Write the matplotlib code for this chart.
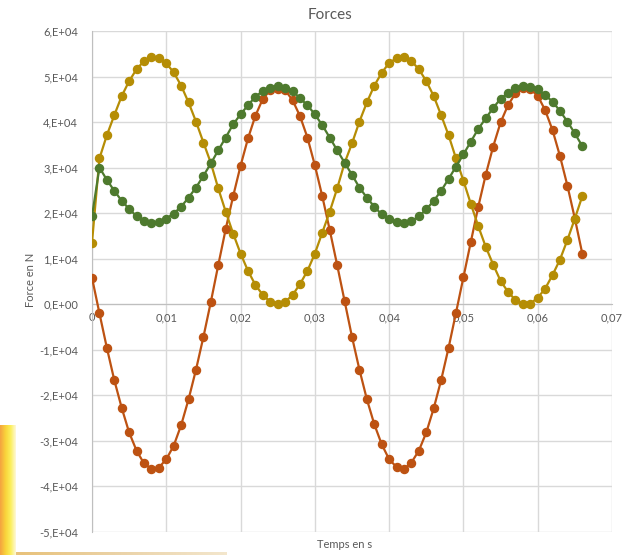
import matplotlib
matplotlib.use("Agg")
import matplotlib.pyplot as plt
import numpy as np
from matplotlib.ticker import FuncFormatter

plt.rcParams['font.family'] = ['Lato', 'DejaVu Sans']

# time steps (s)
temps = [i / 1000 for i in range(67)]

# forces in units of 1E4 N
rouge = [0.58, -0.20, -0.96, -1.67, -2.28, -2.82, -3.22, -3.50, -3.62, -3.59,
         -3.41, -3.11, -2.66, -2.09, -1.44, -0.72, 0.05, 0.86, 1.65, 2.37,
         3.04, 3.64, 4.14, 4.51, 4.70, 4.72, 4.70, 4.48, 4.13, 3.66,
         3.05, 2.37, 1.63, 0.86, 0.07, -0.72, -1.44, -2.09, -2.64, -3.08,
         -3.41, -3.58, -3.62, -3.48, -3.22, -2.82, -2.29, -1.67, -0.96, -0.19,
         0.59, 1.37, 2.14, 2.84, 3.46, 3.99, 4.37, 4.63, 4.74, 4.72,
         4.58, 4.26, 3.82, 3.25, 2.60, 1.88, 1.11]
jaune = [1.35, 3.20, 3.71, 4.15, 4.57, 4.90, 5.16, 5.34, 5.42, 5.40,
         5.29, 5.09, 4.80, 4.43, 4.01, 3.55, 3.10, 2.54, 2.03, 1.55,
         1.11, 0.73, 0.42, 0.20, 0.05, 0.00, 0.05, 0.20, 0.44, 0.73,
         1.11, 1.57, 2.03, 2.54, 3.10, 3.53, 4.01, 4.43, 4.80, 5.08,
         5.30, 5.40, 5.42, 5.34, 5.16, 4.90, 4.57, 4.15, 3.71, 3.20,
         2.71, 2.20, 1.71, 1.26, 0.87, 0.51, 0.27, 0.09, 0.01, 0.01,
         0.14, 0.34, 0.64, 0.98, 1.41, 1.88, 2.37]
vert = [1.93, 3.00, 2.73, 2.49, 2.27, 2.09, 1.93, 1.82, 1.79, 1.81,
        1.88, 1.99, 2.14, 2.34, 2.56, 2.82, 3.09, 3.38, 3.66, 3.95,
        4.17, 4.37, 4.56, 4.68, 4.75, 4.79, 4.75, 4.68, 4.52, 4.37,
        4.17, 3.93, 3.66, 3.38, 3.11, 2.84, 2.56, 2.34, 2.14, 1.97,
        1.86, 1.81, 1.79, 1.82, 1.93, 2.08, 2.27, 2.49, 2.75, 3.02,
        3.29, 3.57, 3.85, 4.08, 4.31, 4.51, 4.64, 4.74, 4.79, 4.76,
        4.73, 4.59, 4.45, 4.24, 4.01, 3.75, 3.47]

xticks = [0, 0.01, 0.02, 0.03, 0.04, 0.05, 0.06, 0.07]
yticks = [-5e4, -4e4, -3e4, -2e4, -1e4, 0, 1e4, 2e4, 3e4, 4e4, 5e4, 6e4]

fig = plt.figure(figsize=(6.24, 5.55), dpi=100)
ax = fig.add_axes([92/624, 1 - 531.7/555, 520/624, 500.7/555])

# decorative gradient in the bottom-left corner of the screenshot
deco = fig.add_axes([0, 0, 16/624, 130/555])
grad = np.linspace(0, 1, 50).reshape(1, -1)
deco.imshow(grad, aspect='auto', cmap=matplotlib.colors.LinearSegmentedColormap.from_list(
    'd', ['#F4A340', '#F9D23A', '#FBEF5A', '#FFF8D8']))
deco.axis('off')
strip = fig.add_axes([16/624, 0, 210/624, 3/555])
strip.imshow(grad, aspect='auto', cmap=matplotlib.colors.LinearSegmentedColormap.from_list(
    's', ['#E8C27A', '#EBD3A8', '#F3E6CC']))
strip.axis('off')

y_r = [v * 1e4 for v in rouge]
y_j = [v * 1e4 for v in jaune]
y_v = [v * 1e4 for v in vert]

ax.plot(temps, y_r, color='#BD5212', lw=1.6, marker='o', ms=5.8, zorder=3)
ax.plot(temps, y_j, color='#B58D05', lw=1.6, marker='o', ms=5.8, zorder=3)
ax.plot(temps, y_v, color='#4E7A2E', lw=1.6, marker='o', ms=5.8, zorder=3)

ax.set_xlim(0, 0.07)
ax.set_ylim(-5e4, 6e4)
ax.set_xticks(xticks)
ax.set_yticks(yticks)
ax.grid(True, color='#D9D9D9', lw=1)
ax.set_axisbelow(True)

ax.xaxis.set_major_formatter(FuncFormatter(lambda v, p: '0' if v == 0 else ('%.2f' % v).replace('.', ',')))
ax.yaxis.set_major_formatter(FuncFormatter(
    lambda v, p: '0,E+00' if v == 0 else '%d,E+%02d' % (round(v / 1e4), 4)))

for s in ['top', 'right']:
    ax.spines[s].set_visible(False)
ax.spines['bottom'].set_position(('data', 0))
ax.spines['bottom'].set_color('#BFBFBF')
ax.spines['left'].set_color('#BFBFBF')
ax.tick_params(axis='both', length=0, labelsize=8, labelcolor='#595959')
ax.tick_params(axis='x', pad=6)
ax.tick_params(axis='y', pad=10)

fig.text(330/624, 1 - 15/555, 'Forces', ha='center', va='center', fontsize=11, color='#595959')
fig.text(345/624, 1 - 545/555, 'Temps en s', ha='center', va='center', fontsize=8, color='#595959')
fig.text(30/624, 1 - 280/555, 'Force en N', ha='center', va='center', rotation=90,
         fontsize=8, color='#595959')

fig.savefig('out.png', dpi=100)
